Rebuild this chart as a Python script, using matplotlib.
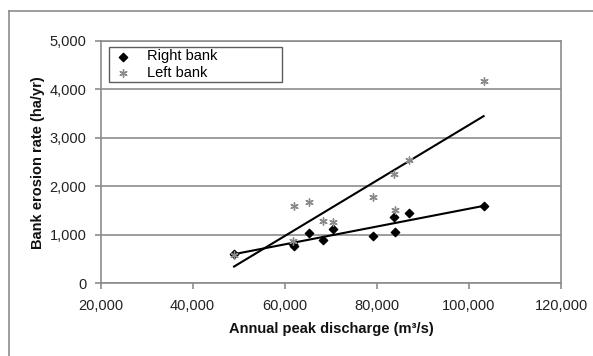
import numpy as np
import matplotlib
matplotlib.use("Agg")
import matplotlib.pyplot as plt
from matplotlib.lines import Line2D
from matplotlib.ticker import FuncFormatter

plt.rcParams['font.family'] = ['Liberation Sans', 'DejaVu Sans']

# annual peak discharge (m3/s) and bank erosion rate (ha/yr)
right_q = [49000, 61800, 62000, 65300, 68400, 70500, 79200, 83800, 84000, 87100, 103200]
right_rate = [600, 820, 770, 1030, 900, 1110, 970, 1360, 1060, 1450, 1590]

left_q = [49000, 61900, 62000, 65300, 68400, 70500, 79200, 83800, 84000, 87100, 103200]
left_rate = [580, 880, 1590, 1670, 1290, 1270, 1780, 2250, 1520, 2550, 4170]

x_ticks = [20000, 40000, 60000, 80000, 100000, 120000]
y_ticks = [0, 1000, 2000, 3000, 4000, 5000]

grey = "#8c8c8c"
W, H = 593, 356

fig = plt.figure(figsize=(W / 100, H / 100), dpi=100)
ax = fig.add_axes([100.5 / W, 1 - 283.3 / H, (561 - 100.5) / W, (283.3 - 40.7) / H])

# outer chart border (only top and left are visible)
fig.add_artist(Line2D([8.5 / W, 1], [1 - 11 / H, 1 - 11 / H], color=grey, lw=1.2))
fig.add_artist(Line2D([8.5 / W, 8.5 / W], [0, 1 - 11 / H], color=grey, lw=1.2))

ax.scatter(right_q, right_rate, marker="D", s=18, color="black", zorder=3, label="Right bank")
ax.scatter(left_q, left_rate, marker=(6, 2, 0), s=28, color="#8a8a8a", linewidths=1.0,
           zorder=3, label="Left bank")

# linear trend lines
for q, r in [(right_q, right_rate), (left_q, left_rate)]:
    k, b = np.polyfit(q, r, 1)
    xs = np.array([min(q), max(q)])
    ax.plot(xs, k * xs + b, color="black", lw=1.5, zorder=2)

ax.set_xlim(20000, 120000)
ax.set_ylim(0, 5000)
ax.set_xticks(x_ticks)
ax.set_yticks(y_ticks)
fmt = FuncFormatter(lambda v, p: f"{int(v):,}")
ax.xaxis.set_major_formatter(fmt)
ax.yaxis.set_major_formatter(fmt)
ax.grid(axis="y", color=grey, lw=1.2)
ax.set_axisbelow(True)
for s in ax.spines.values():
    s.set_color(grey)
    s.set_linewidth(1.2)
ax.tick_params(direction="out", length=4, width=1.2, color=grey, labelsize=10.5,
               labelcolor="#222222")
ax.tick_params(axis="x", pad=7)
ax.tick_params(axis="y", pad=6)

fig.text(331 / W, 1 - 329 / H, "Annual peak discharge (m³/s)", fontsize=10.5,
         fontweight="bold", ha="center", va="center", color="#111111")
fig.text(38 / W, 1 - 163 / H, "Bank erosion rate (ha/yr)", fontsize=10.5,
         fontweight="bold", ha="center", va="center", rotation=90, color="#111111")

leg = ax.legend(bbox_to_anchor=(0.018, 0.813, 0.376, 0.16), loc="upper left", mode="expand",
                frameon=True, fancybox=False, edgecolor="#333333", fontsize=10.5,
                borderpad=0.15, labelspacing=0.15, handletextpad=0.9, handlelength=1.6,
                borderaxespad=0)
leg.get_frame().set_linewidth(1.0)

fig.savefig("out.png", dpi=100)
